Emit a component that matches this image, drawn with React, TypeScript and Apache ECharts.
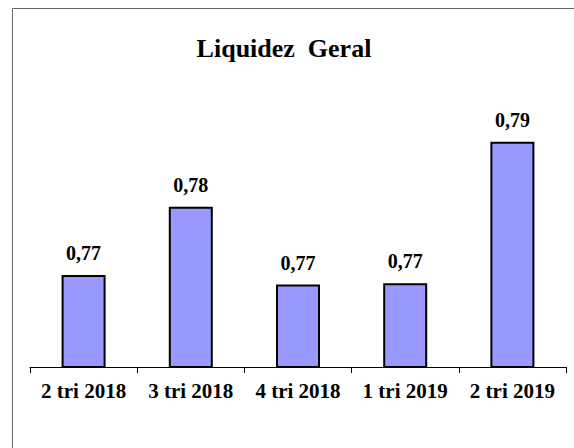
import React, { useEffect, useRef } from "react";
import * as echarts from "echarts";

const categories = ["2 tri 2018", "3 tri 2018", "4 tri 2018", "1 tri 2019", "2 tri 2019"];
const values = [0.7693, 0.7799, 0.7678, 0.768, 0.79];
const titleText = "Liquidez  Geral";

const FONT = "Liberation Serif";

export default function App() {
  const ref = useRef<HTMLDivElement>(null);
  useEffect(() => {
    const chart = echarts.init(ref.current!, null, { renderer: "svg" });
    chart.setOption({
      animation: false,
      backgroundColor: "#ffffff",
      title: {
        text: titleText,
        left: 279,
        textAlign: "center",
        top: 30,
        textStyle: { fontFamily: FONT, fontWeight: "bold", fontSize: 26, color: "#000" },
      },
      graphic: [
        {
          type: "rect",
          shape: { x: 12.5, y: 8.5, width: 700, height: 600 },
          style: { fill: "none", stroke: "#666666", lineWidth: 1 },
          silent: true,
        },
      ],
      grid: { left: 30, right: 8, top: 77.3, bottom: 81 },
      xAxis: {
        type: "category",
        data: categories,
        axisLine: { lineStyle: { color: "#000", width: 1 } },
        axisTick: { show: true, length: 6, lineStyle: { color: "#000" } },
        axisLabel: {
          interval: 0,
          fontFamily: FONT,
          fontWeight: "bold",
          fontSize: 21,
          color: "#000",
          margin: 13,
        },
      },
      yAxis: {
        type: "value",
        min: 0.755,
        max: 0.8,
        show: false,
        splitLine: { show: false },
      },
      series: [
        {
          type: "bar",
          data: values,
          barWidth: 44,
          itemStyle: { color: "#9999FF", borderColor: "#000", borderWidth: 2 },
          label: {
            show: true,
            position: "top",
            distance: 12,
            fontFamily: FONT,
            fontWeight: "bold",
            fontSize: 20,
            color: "#000",
            formatter: (p: any) => p.value.toFixed(2).replace(".", ","),
          },
        },
      ],
    });
    return () => chart.dispose();
  }, []);
  return (
    <div
      ref={ref}
      style={{ position: "fixed", left: 0, top: 0, width: 574, height: 448 }}
    />
  );
}
